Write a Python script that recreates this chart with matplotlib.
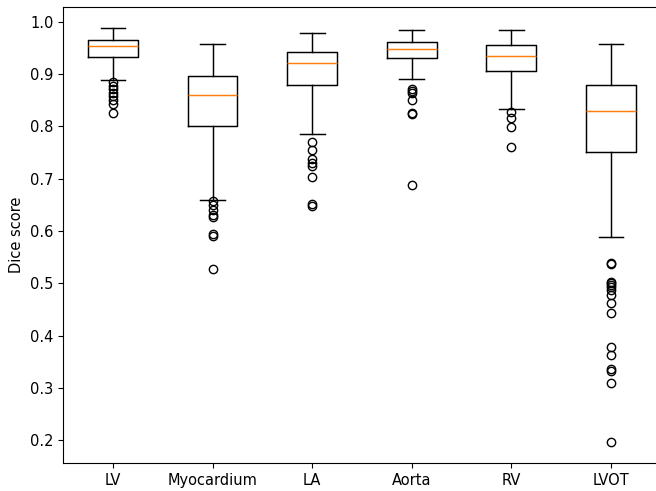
"""Dice score box plot per cardiac structure."""

import matplotlib
matplotlib.use("Agg")
import matplotlib.pyplot as plt

# structures on the x axis
labels = ['LV', 'Myocardium', 'LA', 'Aorta', 'RV', 'LVOT']

# box statistics
whislo = [0.8885, 0.659, 0.785, 0.890, 0.833, 0.589]
q1 = [0.9325, 0.801, 0.878, 0.931, 0.906, 0.750]
med = [0.954, 0.860, 0.921, 0.948, 0.935, 0.829]
q3 = [0.9656, 0.896, 0.942, 0.961, 0.956, 0.878]
whishi = [0.9885, 0.957, 0.979, 0.983, 0.983, 0.958]

# outliers
fliers_lv = [0.885, 0.877, 0.871, 0.864, 0.857, 0.850, 0.842, 0.826]
fliers_myo = [0.658, 0.649, 0.640, 0.630, 0.626, 0.595, 0.591, 0.528]
fliers_la = [0.770, 0.754, 0.737, 0.730, 0.724, 0.703, 0.651, 0.648]
fliers_aorta = [0.872, 0.868, 0.863, 0.850, 0.826, 0.824, 0.688]
fliers_rv = [0.827, 0.815, 0.798, 0.761]
fliers_lvot = [0.538, 0.536, 0.503, 0.500, 0.497, 0.492, 0.487, 0.478,
               0.462, 0.444, 0.379, 0.363, 0.336, 0.333, 0.309, 0.196]
fliers = [fliers_lv, fliers_myo, fliers_la, fliers_aorta, fliers_rv, fliers_lvot]

stats = []
for i, name in enumerate(labels):
    stats.append(dict(label=name, whislo=whislo[i], q1=q1[i], med=med[i],
                      q3=q3[i], whishi=whishi[i], fliers=fliers[i]))

# reference looks rendered ~5% larger than defaults
plt.rcParams['font.size'] = 10.5
plt.rcParams['boxplot.boxprops.linewidth'] = 1.05
plt.rcParams['boxplot.whiskerprops.linewidth'] = 1.05
plt.rcParams['boxplot.capprops.linewidth'] = 1.05
plt.rcParams['boxplot.medianprops.linewidth'] = 1.05

fig = plt.figure(figsize=(6.56, 4.91), dpi=100)
ax = fig.add_axes([0.0963, 0.057, 0.911, 0.929])
ax.bxp(stats, showfliers=True)
ax.set_ylabel('Dice score')
ax.set_yticks([0.2, 0.3, 0.4, 0.5, 0.6, 0.7, 0.8, 0.9, 1.0])

fig.savefig('out.png', dpi=100)
